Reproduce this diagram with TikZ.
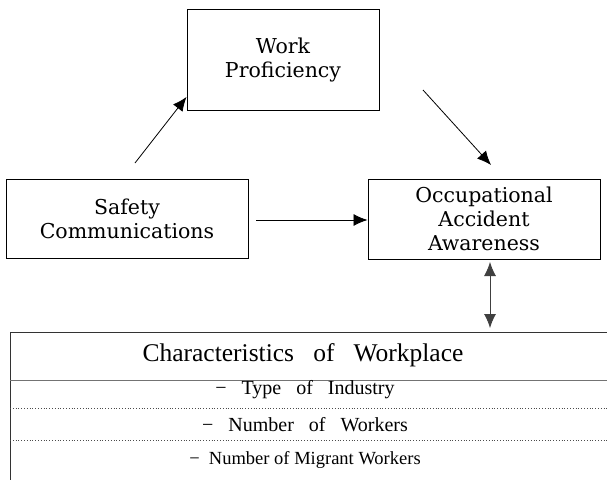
\documentclass[tikz,border=0pt]{standalone}
\usepackage{fontspec}
\setmainfont{DejaVu Serif}
\newfontfamily\rowfont{Liberation Serif}
\usetikzlibrary{arrows.meta}
\begin{document}
\begin{tikzpicture}[x=1pt,y=-1pt,
  box/.style={draw=black,line width=1pt,rectangle,inner sep=0pt,align=center,
    font=\fontsize{20.5}{24}\selectfont},
  link/.style={draw=black,line width=0.8pt,-{Latex[length=14pt,width=12pt]}},
  twoway/.style={draw=black!75,line width=0.9pt,{Latex[length=14pt,width=12pt]}-{Latex[length=14pt,width=12pt]}},
  rowtext/.style={font=\rowfont\fontsize{20}{22}\selectfont},
  headtext/.style={font=\rowfont\fontsize{25.5}{27}\selectfont},
  rowline/.style={draw=black!70,line width=0.8pt,dotted}]
\useasboundingbox (0,0) rectangle (607,479);

% concept boxes
\node[box,minimum width=192pt,minimum height=101pt] (work) at (283,59.5) {Work\\Proficiency};
\node[box,minimum width=242pt,minimum height=79pt] (safety) at (127,218.5) {Safety\\Communications};
\node[box,minimum width=232pt,minimum height=80pt] (occ) at (484,219) {Occupational\\Accident\\Awareness};

% workplace characteristics table
\coordinate (tl) at (10,332);
\coordinate (tr) at (620,332);
\draw[draw=black!80,line width=1pt] (10,490) -- (tl) -- (tr);
\draw[draw=black!55,line width=0.9pt] (10,380) -- (620,380);
\draw[rowline] (10,408) -- (620,408);
\draw[rowline] (10,440) -- (620,440);
\node[headtext] (head) at (303,355) {Characteristics\ \ \ of\ \ \ Workplace};
\node[rowtext] (r1) at (305,390) {−\ \ \ Type\ \ \ of\ \ \ Industry};
\node[rowtext] (r2) at (305,425) {−\ \ \ Number\ \ \ of\ \ \ Workers};
\node[rowtext,font=\rowfont\fontsize{18.5}{20}\selectfont] (r3) at (305,460) {−\ \ Number of Migrant Workers};
\coordinate (tabtop) at (490,332);

% connectors
\coordinate (s1) at (135,163);
\coordinate (w1) at (423,90);
\coordinate (s2) at (256,220);
\draw[link] (s1) -- (work.south west |- 0,97);
\draw[link] (w1) -- (491,165);
\draw[link] (s2) -- (occ.west |- 0,220);
\draw[twoway] (tabtop |- 0,262) -- (tabtop |- 0,328);
\end{tikzpicture}
\end{document}
